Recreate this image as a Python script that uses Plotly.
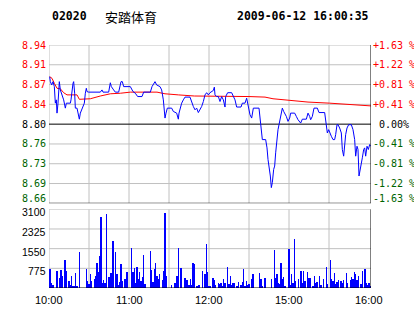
import plotly.graph_objects as go

# ---------------- data ----------------
TITLE_CODE = "02020"
TITLE_NAME = "安踏体育"
TITLE_TIME = "2009-06-12 16:00:35"

PREV_CLOSE = 8.80
PRICE_LEVELS = [8.9434, 8.9076, 8.8717, 8.8359, 8.80, 8.7641, 8.7283, 8.6924, 8.6566]
PRICE_LABELS = ["8.94", "8.91", "8.87", "8.84", "8.80", "8.76", "8.73", "8.69", "8.66"]
PCT_LABELS = ["+1.63 %", "+1.22 %", "+0.81 %", "+0.41 %", "\u00a00.00%",
              "-0.41 %", "-0.81 %", "-1.22 %", "-1.63 %"]

VOL_LEVELS = [3100, 2325, 1550, 775]
VOL_LABELS = ["3100", "2325", "1550", "775"]

GRID_MINUTES = [0, 30, 60, 90, 120, 150, 180, 210]
TIME_TICKS = [0, 60, 120, 180, 240]
TIME_LABELS = ["10:00", "11:00", "12:00", "15:00", "16:00"]

PRICE_TIMES = [0.5, 1, 2, 3, 4, 4.75, 5.5, 6, 6.75, 7.75, 8.5, 9.75, 11, 12.25, 13, 16, 16.5,
               18, 18.5, 19.25, 19.75, 21, 22.25, 22.75, 23.5, 24.75, 26.5, 27.25, 28, 28.5,
               29.75, 38.5, 39.75, 40.5, 44.75, 46, 46.75, 48.5, 49.75, 52.25, 54, 55, 56, 61,
               63, 64.75, 66.5, 69.75, 71, 76, 77.25, 79.5, 80.75, 83.25, 84.5, 85.75, 87,
               87.75, 88.75, 92, 93.25, 95.75, 97, 97.5, 98.25, 99.5, 100.75, 102, 105.75,
               107, 108.25, 109.5, 110.75, 112, 113.25, 114.5, 115.75, 117, 118.25, 119.5,
               120.75, 123.25, 124, 124.5, 125.75, 127, 128.25, 129.5, 130.75, 132, 132.5,
               134, 137, 138.25, 139.5, 140.75, 144, 145, 147, 148.25, 149.5, 150.75, 152,
               153.25, 157.5, 158.5, 159, 160, 162.5, 163.5, 164.25, 165, 166, 166.75, 167.5,
               168.5, 169.25, 170, 171, 171.75, 172.5, 173, 174.25, 175, 176, 176.75, 178,
               179.25, 180.5, 181.25, 184.25, 185.5, 186.75, 188.75, 190, 193, 194.25, 195.5,
               196.25, 197.5, 198.75, 201.25, 202.5, 206.75, 208, 208.75, 209.75, 210.5,
               211.75, 213, 214.25, 215, 216, 216.75, 218, 219.25, 220, 221, 221.75, 222.5,
               223.5, 224.75, 226.75, 228, 229.25, 230, 231, 231.75, 232.5, 233, 234.25, 235,
               236, 236.75, 237.5, 238.5, 239.5, 240.5, 241.25]
PRICE_VALUES = [8.886, 8.877, 8.871, 8.877, 8.868, 8.838, 8.844, 8.820, 8.838, 8.877, 8.862,
                8.853, 8.844, 8.829, 8.838, 8.838, 8.844, 8.874, 8.877, 8.856, 8.829, 8.829,
                8.814, 8.809, 8.820, 8.829, 8.838, 8.856, 8.865, 8.859, 8.858, 8.858, 8.862,
                8.858, 8.858, 8.875, 8.868, 8.862, 8.858, 8.858, 8.877, 8.877, 8.868, 8.868,
                8.859, 8.856, 8.850, 8.850, 8.858, 8.858, 8.868, 8.877, 8.871, 8.868, 8.862,
                8.844, 8.811, 8.820, 8.829, 8.829, 8.823, 8.820, 8.809, 8.820, 8.829, 8.838,
                8.844, 8.849, 8.849, 8.838, 8.832, 8.826, 8.829, 8.821, 8.826, 8.832, 8.841,
                8.853, 8.857, 8.853, 8.857, 8.861, 8.867, 8.853, 8.850, 8.850, 8.841, 8.850,
                8.844, 8.831, 8.850, 8.857, 8.857, 8.851, 8.844, 8.831, 8.831, 8.838, 8.838,
                8.847, 8.831, 8.817, 8.811, 8.829, 8.829, 8.802, 8.784, 8.772, 8.772, 8.757,
                8.736, 8.724, 8.706, 8.685, 8.694, 8.718, 8.724, 8.748, 8.778, 8.790, 8.799,
                8.805, 8.814, 8.829, 8.823, 8.820, 8.814, 8.805, 8.811, 8.820, 8.820, 8.814,
                8.808, 8.802, 8.809, 8.809, 8.820, 8.814, 8.808, 8.814, 8.829, 8.829, 8.821,
                8.821, 8.802, 8.784, 8.790, 8.784, 8.778, 8.772, 8.772, 8.781, 8.799, 8.799,
                8.793, 8.784, 8.754, 8.742, 8.766, 8.781, 8.793, 8.799, 8.799, 8.790, 8.772,
                8.742, 8.760, 8.754, 8.706, 8.712, 8.724, 8.739, 8.754, 8.757, 8.742, 8.760,
                8.754, 8.763, 8.760]

AVG_TIMES = [0.5, 2.25, 4, 6, 8.5, 11, 13.5, 21, 22.75, 31, 38.5, 46, 53.5, 61, 81, 87, 97,
             109, 150, 162, 168, 179.25, 194.25, 210.5, 220.5, 230.5, 241.75]
AVG_VALUES = [8.886, 8.883, 8.874, 8.865, 8.864, 8.857, 8.853, 8.853, 8.845, 8.846, 8.851,
              8.855, 8.856, 8.858, 8.858, 8.855, 8.853, 8.851, 8.850, 8.849, 8.846, 8.843,
              8.840, 8.838, 8.836, 8.835, 8.833]

VOL_TIMES = [0, 1, 2, 3, 6, 8, 9, 10, 12, 13, 15, 16, 17, 18, 19, 20, 21, 23, 28, 29, 30, 31,
             32, 34, 35, 36, 37, 38, 39, 40, 41, 42, 43, 45, 46, 47, 48, 50, 51, 52, 53, 54,
             55, 57, 58, 59, 62, 63, 64, 65, 66, 67, 68, 69, 70, 71, 72, 76, 77, 78, 79, 80,
             81, 82, 83, 85, 86, 87, 88, 92, 94, 95, 96, 97, 99, 102, 103, 104, 105, 106, 107,
             108, 109, 111, 112, 113, 115, 117, 118, 119, 120, 121, 123, 124, 125, 127, 128,
             129, 130, 131, 132, 134, 135, 136, 137, 138, 139, 141, 142, 144, 145, 146, 147,
             148, 149, 150, 152, 153, 158, 159, 160, 162, 167, 169, 170, 171, 172, 173, 174,
             175, 176, 177, 180, 181, 182, 183, 184, 185, 187, 189, 190, 191, 192, 194, 195,
             196, 198, 199, 200, 201, 203, 204, 206, 208, 209, 211, 212, 213, 214, 215, 216,
             217, 219, 220, 221, 223, 224, 226, 227, 228, 229, 230, 231, 232, 234, 235, 237,
             238, 239, 240, 241]
VOL_VALUES = [759, 759, 196, 130, 680, 392, 719, 484, 1112, 680, 288, 130, 484, 92, 92, 589,
              92, 1426, 759, 288, 170, 562, 288, 366, 458, 994, 641, 1269, 2786, 196, 327, 196,
              2917, 419, 602, 602, 1857, 1426, 562, 130, 235, 955, 288, 366, 641, 641, 1557,
              641, 798, 196, 837, 366, 641, 288, 445, 1308, 170, 1465, 719, 248, 759, 994, 484,
              366, 562, 327, 680, 2969, 484, 130, 209, 209, 484, 1557, 798, 405, 327, 327, 130,
              366, 130, 994, 955, 92, 130, 130, 680, 562, 1740, 641, 92, 92, 405, 327, 130,
              209, 170, 209, 92, 366, 209, 837, 170, 484, 130, 209, 209, 92, 248, 130, 248,
              759, 92, 288, 130, 170, 366, 562, 602, 366, 92, 405, 366, 1504, 405, 562, 209,
              170, 994, 366, 445, 92, 1543, 130, 562, 209, 1936, 288, 366, 680, 209, 680, 288,
              641, 405, 405, 92, 484, 209, 248, 484, 130, 366, 837, 170, 1112, 366, 288, 602,
              170, 248, 327, 288, 209, 327, 602, 209, 327, 445, 366, 641, 562, 327, 484, 170,
              680, 759, 209, 130, 209, 92]

# ---------------- styles ----------------
RED = "#ff0000"
GREEN = "#006400"
BLUE = "#0000ff"
GRID = "#c0c0c0"
MONO = "DejaVu Sans Mono"
SANS = "Liberation Sans"
X_MAX = 241.5

fig = go.Figure()
fig.add_trace(go.Scatter(x=AVG_TIMES, y=AVG_VALUES, mode="lines", line=dict(color=RED, width=1),
                         xaxis="x", yaxis="y", hoverinfo="skip", showlegend=False))
fig.add_trace(go.Scatter(x=PRICE_TIMES, y=PRICE_VALUES, mode="lines", line=dict(color=BLUE, width=1),
                         xaxis="x", yaxis="y", hoverinfo="skip", showlegend=False))
fig.add_trace(go.Bar(x=VOL_TIMES, y=VOL_VALUES, width=0.8, marker=dict(color=BLUE, line=dict(width=0)),
                     xaxis="x2", yaxis="y2", hoverinfo="skip", showlegend=False))

shapes = []
# vertical grid lines in both panels
for m in GRID_MINUTES:
    for yref in ("y", "y2"):
        lo, hi = (PRICE_LEVELS[-1], PRICE_LEVELS[0]) if yref == "y" else (0, VOL_LEVELS[0])
        shapes.append(dict(type="line", xref="x" if yref == "y" else "x2", yref=yref,
                           x0=m, x1=m, y0=lo, y1=hi, line=dict(color=GRID, width=1), layer="below"))
# horizontal price lines
for lvl in PRICE_LEVELS:
    col = "#000000" if (lvl == PREV_CLOSE or lvl == PRICE_LEVELS[-1]) else GRID
    shapes.append(dict(type="line", xref="x", yref="y", x0=0, x1=X_MAX, y0=lvl, y1=lvl,
                       line=dict(color=col, width=1), layer="below"))
# horizontal volume lines
for lvl in VOL_LEVELS:
    shapes.append(dict(type="line", xref="x2", yref="y2", x0=0, x1=X_MAX, y0=lvl, y1=lvl,
                       line=dict(color=GRID, width=1), layer="below"))
shapes.append(dict(type="line", xref="x2", yref="y2", x0=0, x1=X_MAX, y0=0, y1=0,
                   line=dict(color="#000000", width=1)))
# right borders
shapes.append(dict(type="line", xref="x", yref="y", x0=X_MAX, x1=X_MAX, y0=PRICE_LEVELS[-1],
                   y1=PRICE_LEVELS[0], line=dict(color="#000000", width=1)))
shapes.append(dict(type="line", xref="x2", yref="y2", x0=X_MAX, x1=X_MAX, y0=0, y1=VOL_LEVELS[0],
                   line=dict(color="#000000", width=1)))

annotations = []
for i, (lvl, lab, pct) in enumerate(zip(PRICE_LEVELS, PRICE_LABELS, PCT_LABELS)):
    col = RED if lvl > PREV_CLOSE else ("#000000" if lvl == PREV_CLOSE else GREEN)
    ys = 5 if i == len(PRICE_LEVELS) - 1 else 0
    annotations.append(dict(xref="paper", yref="y", x=0, y=lvl, text=lab, showarrow=False,
                            xanchor="right", yanchor="middle", xshift=-1, yshift=ys,
                            font=dict(family=MONO, size=10, color=col)))
    annotations.append(dict(xref="paper", yref="y", x=1, y=lvl, text=pct, showarrow=False,
                            xanchor="left", yanchor="middle", xshift=0, yshift=ys,
                            font=dict(family=MONO, size=10, color=col)))
for lvl, lab in zip(VOL_LEVELS, VOL_LABELS):
    annotations.append(dict(xref="paper", yref="y2", x=0, y=lvl, text=lab, showarrow=False,
                            xanchor="right", yanchor="middle", xshift=-1, yshift=-3,
                            font=dict(family=SANS, size=10.5, color="#000000")))
for t, lab in zip(TIME_TICKS, TIME_LABELS):
    annotations.append(dict(xref="x2", yref="paper", x=t, y=0, text=lab, showarrow=False,
                            xanchor="center", yanchor="top", yshift=-4,
                            font=dict(family=SANS, size=11, color="#000000")))
# title texts
annotations.append(dict(xref="paper", yref="paper", x=0, y=1, text="<b>" + TITLE_CODE + "</b>",
                        showarrow=False, xanchor="left", yanchor="middle", xshift=1, yshift=29,
                        font=dict(family=MONO, size=11.5, color="#000000")))
annotations.append(dict(xref="paper", yref="paper", x=0, y=1, text=TITLE_NAME,
                        showarrow=False, xanchor="left", yanchor="middle", xshift=54, yshift=29,
                        font=dict(family="Noto Sans CJK SC", size=13, color="#000000")))
annotations.append(dict(xref="paper", yref="paper", x=1, y=1, text="<b>" + TITLE_TIME + "</b>",
                        showarrow=False, xanchor="right", yanchor="middle", xshift=0, yshift=29,
                        font=dict(family=MONO, size=11.5, color="#000000")))

axis_common = dict(range=[0, X_MAX], showgrid=False, zeroline=False, showticklabels=False,
                   ticks="", showline=False, fixedrange=True)
fig.update_layout(
    width=414, height=314,
    margin=dict(l=49, r=43, t=45, b=26, pad=0),
    paper_bgcolor="white", plot_bgcolor="white",
    xaxis=dict(anchor="y", **axis_common),
    xaxis2=dict(anchor="y2", **axis_common),
    yaxis=dict(domain=[0.3486, 1], range=[PRICE_LEVELS[-1], PRICE_LEVELS[0]], showgrid=False,
               zeroline=False, showticklabels=False, ticks="", fixedrange=True),
    yaxis2=dict(domain=[0, 0.3239], range=[0, VOL_LEVELS[0]], showgrid=False, zeroline=False,
                showticklabels=False, ticks="", fixedrange=True),
    shapes=shapes, annotations=annotations, bargap=0,
)
fig.write_html("out.html", config={"displayModeBar": False, "staticPlot": True})
